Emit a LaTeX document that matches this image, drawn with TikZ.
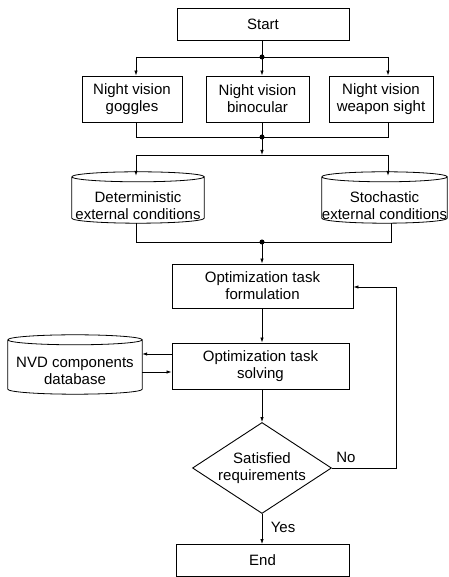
\documentclass[tikz,border=0pt]{standalone}
\usepackage{fontspec}
\setmainfont{Liberation Sans}
\usetikzlibrary{shapes.geometric,arrows.meta,calc}
\newcommand\cylout[2]{%
  \draw[cylline] let \p1=(#1.north west), \p2=(#1.south east), \n1={(\x2-\x1)/2} in
    (\x1,\y1-#2) arc[start angle=180,end angle=-180,x radius=\n1,y radius=#2]
    (\x1,\y1-#2) -- (\x1,\y2+#2) arc[start angle=180,end angle=360,x radius=\n1,y radius=#2] -- (\x2,\y1-#2);}
\begin{document}
\begin{tikzpicture}[x=1pt,y=1pt,
  txt/.style={font=\fontsize{15}{17}\selectfont,align=center,inner sep=0pt},
  box/.style={txt,draw,line width=0.9pt,rectangle},
  cylbox/.style={rectangle,inner sep=0pt},
  cylline/.style={line width=0.8pt},
  dec/.style={txt,draw,line width=0.9pt,diamond,aspect=1.53},
  conn/.style={line width=0.8pt},
  arr/.style={conn,-{Latex[length=5pt,width=3.5pt]}},
  dot/.style={circle,fill,inner sep=0pt,minimum size=5pt}]
\useasboundingbox (0,0) rectangle (448,577);
% boxes
\node[box,minimum width=172,minimum height=32] (start) at (263,553) {Start};
\node[box,minimum width=100,minimum height=46] (gog) at (132,478) {Night vision\\goggles};
\node[box,minimum width=103,minimum height=46] (bin) at (257.5,478) {Night vision\\binocular};
\node[box,minimum width=104,minimum height=46] (wps) at (381,478) {Night vision\\weapon sight};
% cylinders
\node[cylbox,minimum width=132,minimum height=51] (det) at (138,379.5) {};
\cylout{det}{5pt}
\node[txt] (dettxt) at ([yshift=-8]det.center) {Deterministic\\external conditions};
\node[cylbox,minimum width=125,minimum height=51] (sto) at (384.5,379.5) {};
\cylout{sto}{5pt}
\node[txt] (stotxt) at ([yshift=-8]sto.center) {Stochastic\\external conditions};
\node[box,minimum width=181,minimum height=44] (form) at (262.5,291) {Optimization task\\formulation};
\node[box,minimum width=177,minimum height=46] (solv) at (260.5,211) {Optimization task\\solving};
\node[cylbox,minimum width=134,minimum height=59] (nvd) at (75,212.5) {};
\cylout{nvd}{5pt}
\node[txt] (nvdtxt) at ([yshift=-6]nvd.center) {NVD components\\database};
\node[dec,minimum width=139,minimum height=91] (dec) at (262,109) {Satisfied\\requirements};
\node[box,minimum width=173,minimum height=32] (end) at (262.5,16.5) {End};
% junctions
\coordinate (j1) at (262,520);
\coordinate (gtop) at (136,520);
\coordinate (wtop) at (388,520);
\coordinate (j2) at (262,440);
\coordinate (gbot) at (136,440);
\coordinate (wbot) at (388,440);
\coordinate (j3) at (262,422);
\coordinate (dtop) at (136,422);
\coordinate (stop) at (388,422);
\coordinate (j4) at (262,335);
\coordinate (dbot) at (136,335);
\coordinate (sbot) at (391,335);
\coordinate (fb) at (396,109);
\coordinate (fbt) at (396,290);
% connectors
\draw[conn] (start.south -| j1) -- (j1);
\draw[conn] (gtop) -- (wtop);
\draw[arr] (gtop) -- (gtop |- gog.north);
\draw[arr] (j1) -- (j1 |- bin.north);
\draw[arr] (wtop) -- (wtop |- wps.north);
\node[dot] (d1) at (j1) {};
\draw[conn] (gbot |- gog.south) -- (gbot) -- (wbot) -- (wbot |- wps.south);
\draw[conn] (j2 |- bin.south) -- (j2);
\node[dot] (d2) at (j2) {};
\draw[arr] (j2) -- (j3);
\draw[conn] (dtop) -- (stop);
\draw[arr] (dtop) -- ($(dtop |- det.north)+(0,-4)$);
\draw[arr] (stop) -- ($(stop |- sto.north)+(0,-4)$);
\draw[conn] (dbot |- det.south) -- (dbot) -- (sbot) -- (sbot |- sto.south);
\node[dot] (d4) at (j4) {};
\draw[arr] (j4) -- (j4 |- form.north);
\draw[arr] (form.south -| j4) -- (j4 |- solv.north);
\draw[arr] (solv.west |- 0,223) -- (nvd.east |- 0,223);
\draw[arr] (nvd.east |- 0,205) -- (solv.west |- 0,205);
\draw[arr] (solv.south -| dec.north) -- (dec.north);
\draw[arr] (dec.east) -- (fb) -- (fbt) -- (fbt -| form.east);
\draw[arr] (dec.south) -- (dec.south |- end.north);
\node[txt] (no) at (346,120) {No};
\node[txt] (yes) at (283,50) {Yes};
\end{tikzpicture}
\end{document}
